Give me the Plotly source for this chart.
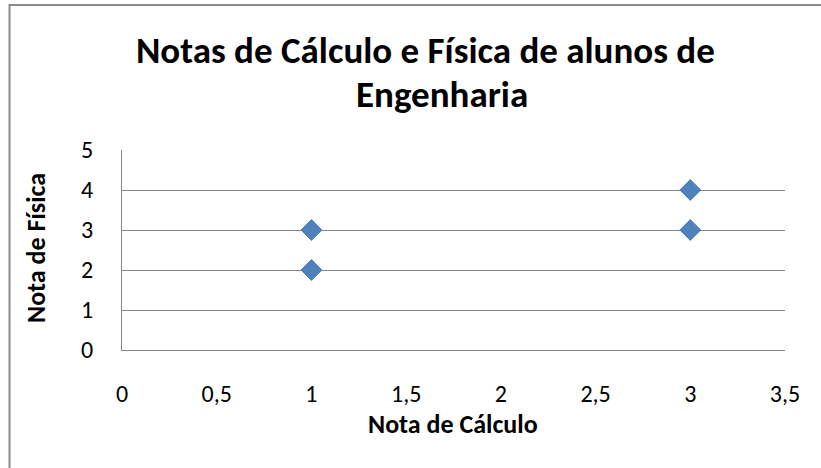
import plotly.graph_objects as go

# Data
nota_calculo = [1, 1, 3, 3]
nota_fisica = [2, 3, 3, 4]
title_line1 = "Notas de Cálculo e Física de alunos de"
title_line2 = "Engenharia"
x_title = "Nota de Cálculo"
y_title = "Nota de Física"

W, H = 821, 468
L, R, T, B = 122, 36, 150, 118
PW, PH = W - L - R, H - T - B

def px(x):
    return (x - L) / PW

def py(y):
    return (H - B - y) / PH

FONT = "Carlito, Calibri, Lato, sans-serif"

fig = go.Figure()
fig.add_trace(go.Scatter(
    x=nota_calculo, y=nota_fisica, mode="markers",
    marker=dict(symbol="diamond", size=16, color="#4F81BD",
                line=dict(color="#4A7EBB", width=1)),
    showlegend=False,
))

fig.update_layout(
    width=W, height=H,
    margin=dict(l=L, r=R, t=T, b=B, pad=0),
    paper_bgcolor="white", plot_bgcolor="white",
    separators=",.",
    font=dict(family=FONT, color="black", size=24),
    xaxis=dict(range=[0, 3.5], dtick=0.5, tick0=0, showgrid=False,
               zeroline=False, showline=True, linecolor="#868686", linewidth=1,
               ticks="", ticklabelstandoff=22, fixedrange=True,
               tickfont=dict(size=24, family=FONT)),
    yaxis=dict(range=[0, 5], dtick=1, tick0=0, showgrid=True,
               gridcolor="#868686", gridwidth=1,
               zeroline=False, showline=True, linecolor="#868686", linewidth=1,
               ticks="", ticklabelstandoff=23, fixedrange=True,
               tickfont=dict(size=24, family=FONT)),
    shapes=[dict(type="rect", xref="paper", yref="paper",
                 x0=px(9.5), x1=px(840), y0=py(490), y1=py(5),
                 line=dict(color="#8C8C8C", width=2), layer="below")],
    annotations=[
        dict(text="<b>%s</b>" % title_line1, xref="paper", yref="paper",
             x=px(425), y=py(50), showarrow=False, xanchor="center", yanchor="middle",
             font=dict(size=37, family=FONT)),
        dict(text="<b>%s</b>" % title_line2, xref="paper", yref="paper",
             x=px(442), y=py(94), showarrow=False, xanchor="center", yanchor="middle",
             font=dict(size=37, family=FONT)),
        dict(text="<b>%s</b>" % x_title, xref="paper", yref="paper",
             x=px(453), y=py(424), showarrow=False, xanchor="center", yanchor="middle",
             font=dict(size=26, family=FONT)),
        dict(text="<b>%s</b>" % y_title, xref="paper", yref="paper",
             x=px(36), y=py(248), showarrow=False, xanchor="center", yanchor="middle",
             textangle=-90, font=dict(size=26, family=FONT)),
    ],
)

fig.write_html("out.html", config={"displayModeBar": False},
               post_script="document.body.style.margin='0';")
